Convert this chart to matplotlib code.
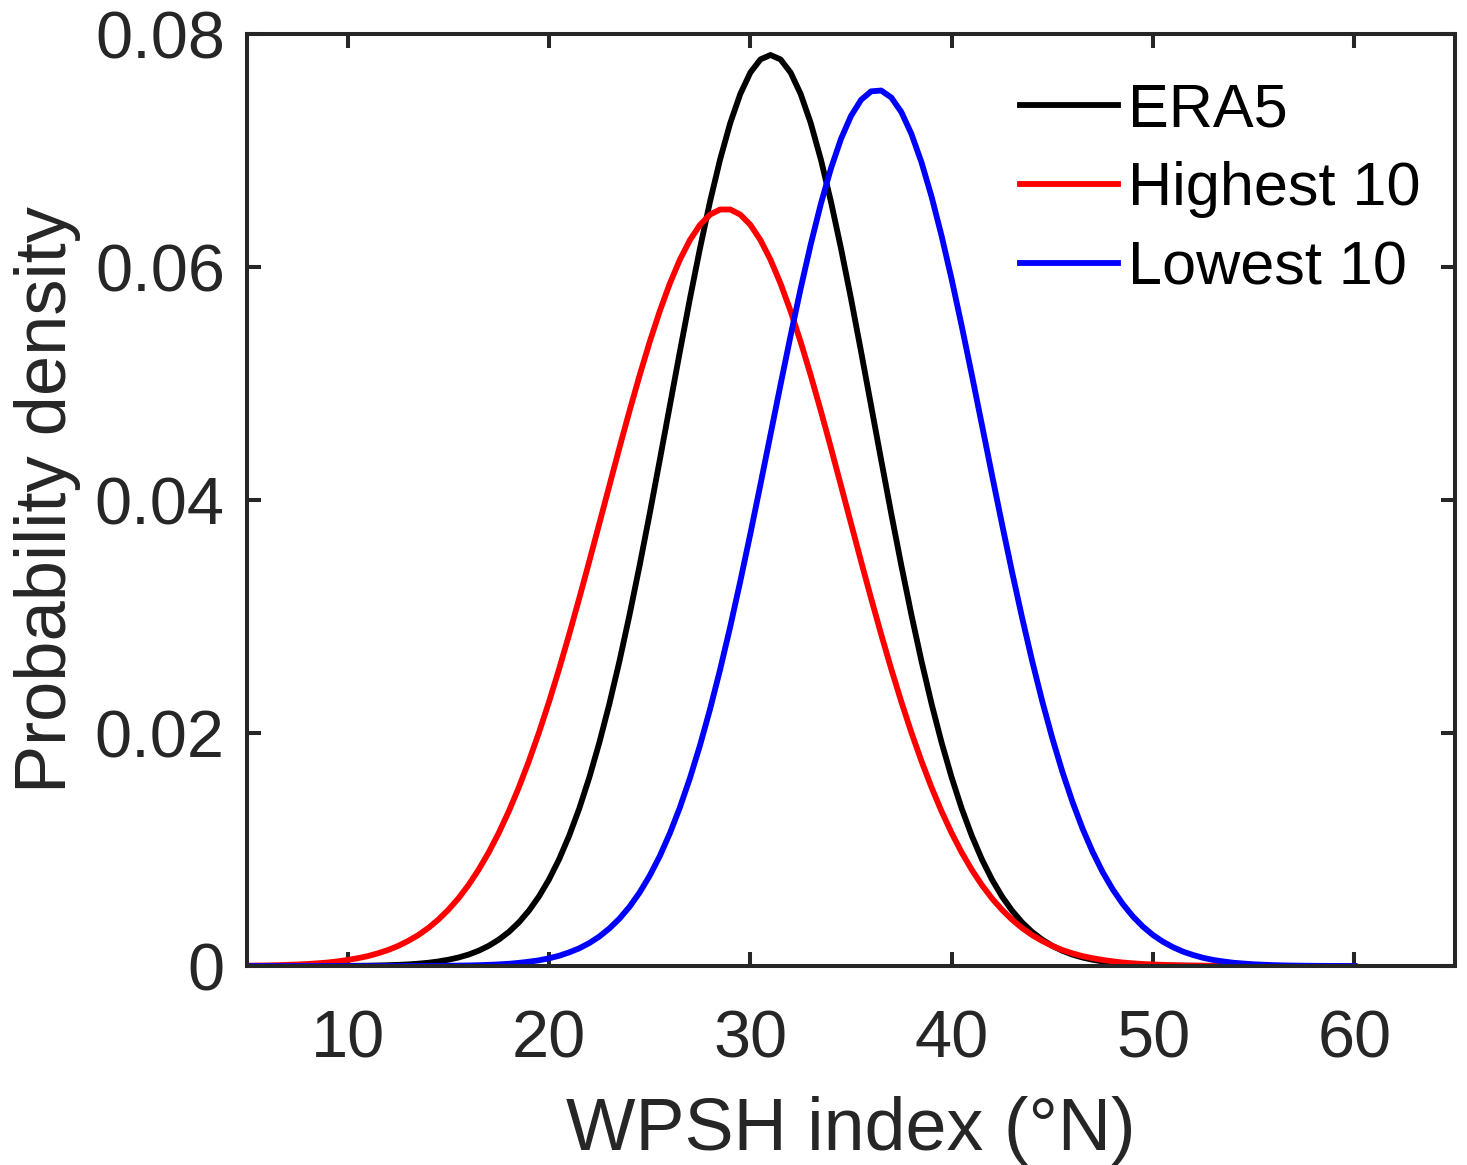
import numpy as np
import matplotlib
matplotlib.use("Agg")
import matplotlib.pyplot as plt

plt.rcParams['font.family'] = ['Liberation Sans', 'DejaVu Sans']

# WPSH index (°N), curves read every 0.5 degree from 5 to 60
x_lat = [5 + 0.5 * i for i in range(111)]

# probability density (10 values per row = 5 degrees)
era5 = [0, 0, 0, 0, 0.000001, 0.000002, 0.000003, 0.000004, 0.000006, 0.00001,
        0.000015, 0.000022, 0.00003, 0.000048, 0.00007, 0.0001, 0.00014, 0.0002, 0.00028, 0.00039,
        0.00054, 0.00073, 0.00098, 0.00131, 0.00173, 0.00226, 0.00292, 0.00374, 0.00475, 0.00597,
        0.00743, 0.00916, 0.01118, 0.01351, 0.01618, 0.01918, 0.02252, 0.02618, 0.03015, 0.03438,
        0.03882, 0.04342, 0.04808, 0.05274, 0.05729, 0.06162, 0.06564, 0.06925, 0.07235, 0.07485,
        0.07669, 0.07782, 0.07820, 0.07782, 0.07669, 0.07485, 0.07235, 0.06925, 0.06564, 0.06162,
        0.05729, 0.05274, 0.04808, 0.04342, 0.03882, 0.03438, 0.03015, 0.02618, 0.02252, 0.01918,
        0.01618, 0.01351, 0.01118, 0.00916, 0.00743, 0.00597, 0.00475, 0.00374, 0.00292, 0.00226,
        0.00173, 0.00131, 0.00098, 0.00073, 0.00054, 0.00039, 0.00028, 0.0002, 0.00014, 0.0001,
        0.00007, 0.000048, 0.00003, 0.000022, 0.000015, 0.00001, 0.000006, 0.000004, 0.000003, 0.000002,
        0.000001, 0, 0, 0, 0, 0, 0, 0, 0, 0,
        0]
highest10 = [0.00003, 0.00004, 0.00005, 0.00007, 0.0001, 0.00013, 0.00017, 0.00023, 0.0003, 0.0004,
             0.00052, 0.00067, 0.00085, 0.00109, 0.00137, 0.00172, 0.00215, 0.00265, 0.00326, 0.00398,
             0.00483, 0.00581, 0.00695, 0.00826, 0.00974, 0.01141, 0.01327, 0.01533, 0.01759, 0.02004,
             0.02268, 0.02549, 0.02846, 0.03155, 0.03474, 0.03799, 0.04125, 0.0445, 0.04766, 0.0507,
             0.05357, 0.05621, 0.05858, 0.06063, 0.06232, 0.06362, 0.0645, 0.06494, 0.06494, 0.0645,
             0.06362, 0.06232, 0.06063, 0.05858, 0.05621, 0.05357, 0.0507, 0.04766, 0.0445, 0.04125,
             0.03799, 0.03474, 0.03155, 0.02846, 0.02549, 0.02268, 0.02004, 0.01759, 0.01533, 0.01327,
             0.01141, 0.00974, 0.00826, 0.00695, 0.00581, 0.00483, 0.00398, 0.00326, 0.00265, 0.00215,
             0.00172, 0.00137, 0.00109, 0.00085, 0.00067, 0.00052, 0.0004, 0.0003, 0.00023, 0.00017,
             0.00013, 0.0001, 0.00007, 0.00005, 0.00004, 0.00003, 0.00002, 0.000015, 0.00001, 0.000008,
             0.000005, 0.000003, 0.000002, 0.000001, 0.000001, 0, 0, 0, 0, 0,
             0]
lowest10 = [0, 0, 0, 0, 0, 0, 0, 0, 0, 0,
            0, 0, 0.000001, 0.000001, 0.000002, 0.000003, 0.000005, 0.000007, 0.000011, 0.000016,
            0.000023, 0.000034, 0.000049, 0.00007, 0.0001, 0.00014, 0.00019, 0.00027, 0.00037, 0.00049,
            0.00066, 0.00088, 0.00117, 0.00152, 0.00197, 0.00253, 0.00323, 0.00407, 0.00509, 0.00631,
            0.00775, 0.00943, 0.01138, 0.01361, 0.01613, 0.01895, 0.02206, 0.02546, 0.02912, 0.03302,
            0.0371, 0.04132, 0.04561, 0.0499, 0.05411, 0.05816, 0.06195, 0.06541, 0.06844, 0.07099,
            0.07297, 0.07435, 0.07508, 0.07515, 0.07455, 0.0733, 0.07143, 0.06899, 0.06605, 0.06267,
            0.05894, 0.05493, 0.05075, 0.04647, 0.04217, 0.03794, 0.03382, 0.02989, 0.02617, 0.02272,
            0.01955, 0.01667, 0.01409, 0.0118, 0.0098, 0.00806, 0.00658, 0.00532, 0.00426, 0.00338,
            0.00266, 0.00208, 0.00161, 0.00123, 0.00094, 0.0007, 0.00052, 0.00039, 0.00028, 0.00021,
            0.00015, 0.00011, 0.000075, 0.000053, 0.000037, 0.000025, 0.000017, 0.000012, 0.000008, 0.000005,
            0.000003]

series_names = ['ERA5', 'Highest 10', 'Lowest 10']
series_colors = ['black', 'red', 'blue']

x_ticks = [10, 20, 30, 40, 50, 60]
y_ticks = [0, 0.02, 0.04, 0.06, 0.08]
y_ticklabels = ['0', '0.02', '0.04', '0.06', '0.08']

axcol = '#262626'

fig, ax = plt.subplots(figsize=(14.67, 11.65), dpi=100)
fig.subplots_adjust(left=0.1684, right=0.9918, bottom=0.1708, top=0.9708)

for yy, name, col in zip([era5, highest10, lowest10], series_names, series_colors):
    ax.plot(x_lat, yy, color=col, lw=4.2, label=name, solid_joinstyle='round')

ax.set_xlim(5, 65)
ax.set_ylim(0, 0.08)
ax.set_xticks(x_ticks)
ax.set_yticks(y_ticks)
ax.set_yticklabels(y_ticklabels)

# matlab style box with ticks inside on every side
for sp in ax.spines.values():
    sp.set_linewidth(2.9)
    sp.set_color(axcol)
ax.tick_params(direction='in', length=10, width=2.9, color=axcol, top=True, right=True,
               labelsize=48, labelcolor=axcol)
ax.tick_params(axis='x', pad=31)
ax.tick_params(axis='y', pad=16)

ax.set_xlabel('WPSH index (°N)', fontsize=53, color=axcol, labelpad=18)
ax.set_ylabel('Probability density', fontsize=52, color=axcol, labelpad=10)

leg = ax.legend(loc='upper left', bbox_to_anchor=(0.640, 0.948), frameon=False, fontsize=44,
                handlelength=1.6, handletextpad=0.16, labelspacing=0.36, borderpad=0, borderaxespad=0)
for line in leg.get_lines():
    line.set_linewidth(4.2)

fig.savefig('out.png', dpi=100)
